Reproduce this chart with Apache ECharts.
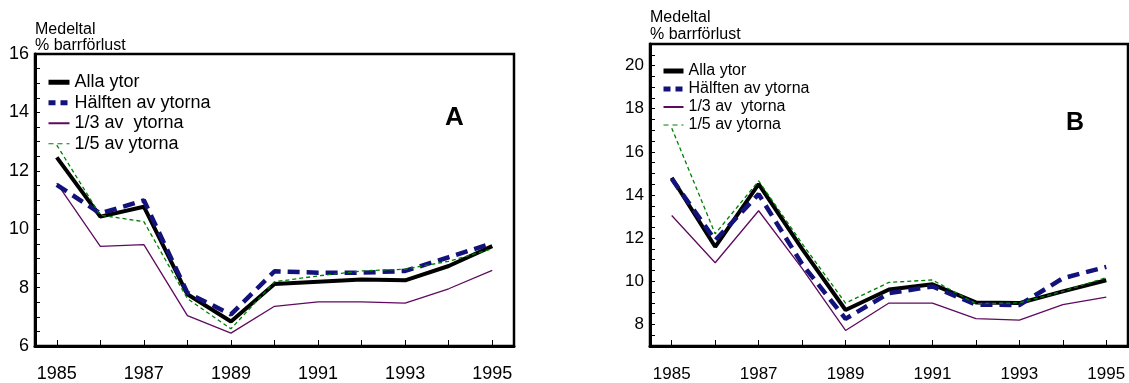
<!DOCTYPE html>
<html>
<head>
<meta charset="utf-8">
<script src="https://cdn.jsdelivr.net/npm/echarts@6/dist/echarts.min.js"></script>
<style>
html,body{margin:0;padding:0;background:#fff;}
#c{width:1129px;height:383px;}
</style>
</head>
<body>
<div id="c"></div>
<script>
var years = ['1985','1986','1987','1988','1989','1990','1991','1992','1993','1994','1995'];
var seriesNames = ['Alla ytor', 'Hälften av ytorna', '1/3 av  ytorna', '1/5 av ytorna'];

// Panel A
var allaA    = [12.46, 10.43, 10.77, 7.77, 6.84, 8.12, 8.20, 8.28, 8.25, 8.74, 9.42];
var halftenA = [11.52, 10.54, 10.99, 7.82, 7.08, 8.56, 8.51, 8.51, 8.57, 9.04, 9.52];
var tredjeA  = [11.58, 9.41, 9.47, 7.04, 6.44, 7.36, 7.51, 7.51, 7.47, 7.96, 8.59];
var femteA   = [12.88, 10.48, 10.26, 7.62, 6.59, 8.20, 8.40, 8.57, 8.63, 8.90, 9.33];

// Panel B
var allaB    = [14.80, 11.60, 14.50, 11.50, 8.67, 9.62, 9.86, 9.02, 8.99, 9.53, 10.05];
var halftenB = [14.75, 11.90, 14.04, 10.80, 8.26, 9.45, 9.76, 8.92, 8.90, 10.14, 10.67];
var tredjeB  = [13.05, 10.86, 13.27, 10.60, 7.72, 8.99, 8.99, 8.27, 8.20, 8.92, 9.27];
var femteB   = [17.10, 12.20, 14.65, 11.75, 8.99, 9.95, 10.06, 8.96, 9.00, 9.53, 10.17];

var yTicksA = [6, 16];
var yTicksB = [7, 21];
var yAxisTitle = 'Medeltal\n% barrförlust';

var colors = ['#000000', '#12127a', '#5e0a5e', '#008000'];
var styles = [
  {width: 4, type: 'solid'},
  {width: 4.5, type: [12, 7]},
  {width: 1.3, type: 'solid'},
  {width: 1.3, type: [4, 3]}
];
var legendStyles = [
  {width: 5, type: 'solid'},
  {width: 5, type: [7, 5]},
  {width: 2, type: 'solid'},
  {width: 1.2, type: [5, 4]}
];

function mkSeries(arrs, idx) {
  return arrs.map(function (d, i) {
    return {
      name: seriesNames[i],
      type: 'line',
      xAxisIndex: idx, yAxisIndex: idx,
      data: d,
      symbol: 'none',
      smooth: false,
      z: [3, 4, 2, 5][i],
      lineStyle: {color: colors[i], width: styles[i].width, type: styles[i].type},
      itemStyle: {color: colors[i]}
    };
  });
}

function legendData() {
  return seriesNames.map(function (n, i) {
    return {name: n, lineStyle: {color: colors[i], width: legendStyles[i].width, type: legendStyles[i].type}};
  });
}

function xAxis(idx, fs, margin) {
  return {
    type: 'category', gridIndex: idx, data: years, boundaryGap: true,
    axisLine: {lineStyle: {color: '#000', width: 3}},
    axisTick: {show: true, inside: true, length: 6, alignWithLabel: true, interval: 0, lineStyle: {color: '#000', width: 1}},
    axisLabel: {interval: 1, color: '#000', fontSize: fs, fontFamily: 'Liberation Sans, Arial', margin: margin},
    splitLine: {show: false}
  };
}
function yAxis(idx, mm, fs) {
  return {
    type: 'value', gridIndex: idx, min: mm[0], max: mm[1], interval: 0.5,
    axisLine: {show: true, lineStyle: {color: '#000', width: 3}},
    axisTick: {show: true, inside: true, length: 5, lineStyle: {color: '#000', width: 1}},
    axisLabel: {color: '#000', fontSize: fs, fontFamily: 'Liberation Sans, Arial', margin: 6,
      formatter: function (v) { return (Math.abs(v % 2) < 1e-6) ? String(v) : ''; }},
    splitLine: {show: false}
  };
}

var chart = echarts.init(document.getElementById('c'), null, {renderer: 'canvas'});
chart.setOption({
  animation: false,
  backgroundColor: '#fff',
  grid: [
    {left: 35, top: 54, width: 479, height: 295, show: true, borderColor: '#000', borderWidth: 2.5, backgroundColor: 'transparent'},
    {left: 650, top: 44, width: 478, height: 307, show: true, borderColor: '#000', borderWidth: 2.5, backgroundColor: 'transparent'}
  ],
  title: [
    {text: yAxisTitle, left: 35, top: 21, padding: 0, textStyle: {fontSize: 16, lineHeight: 16.5, fontWeight: 'normal', color: '#000', fontFamily: 'Liberation Sans, Arial'}},
    {text: yAxisTitle, left: 650, top: 9, padding: 0, textStyle: {fontSize: 16, lineHeight: 17, fontWeight: 'normal', color: '#000', fontFamily: 'Liberation Sans, Arial'}},
    {text: 'A', left: 445, top: 105, padding: 0, textStyle: {fontSize: 26, fontWeight: 'bold', color: '#000', fontFamily: 'Liberation Sans, Arial'}},
    {text: 'B', left: 1066, top: 111, padding: 0, textStyle: {fontSize: 25, fontWeight: 'bold', color: '#000', fontFamily: 'Liberation Sans, Arial'}}
  ],
  legend: [
    {data: legendData(), orient: 'vertical', left: 46, top: 72, padding: 0, itemGap: 0, itemWidth: 21, itemHeight: 14,
      itemStyle: {opacity: 0},
      textStyle: {fontSize: 18, lineHeight: 20.5, color: '#000', fontFamily: 'Liberation Sans, Arial'},
      selectedMode: false},
    {data: legendData(), orient: 'vertical', left: 661, top: 62, padding: 0, itemGap: 0, itemWidth: 20, itemHeight: 12,
      itemStyle: {opacity: 0},
      textStyle: {fontSize: 16, lineHeight: 18, color: '#000', fontFamily: 'Liberation Sans, Arial'},
      selectedMode: false}
  ],
  xAxis: [xAxis(0, 18, 19), xAxis(1, 17, 20)],
  yAxis: [yAxis(0, yTicksA, 18), yAxis(1, yTicksB, 17)],
  series: mkSeries([allaA, halftenA, tredjeA, femteA], 0).concat(mkSeries([allaB, halftenB, tredjeB, femteB], 1))
});
</script>
</body>
</html>
